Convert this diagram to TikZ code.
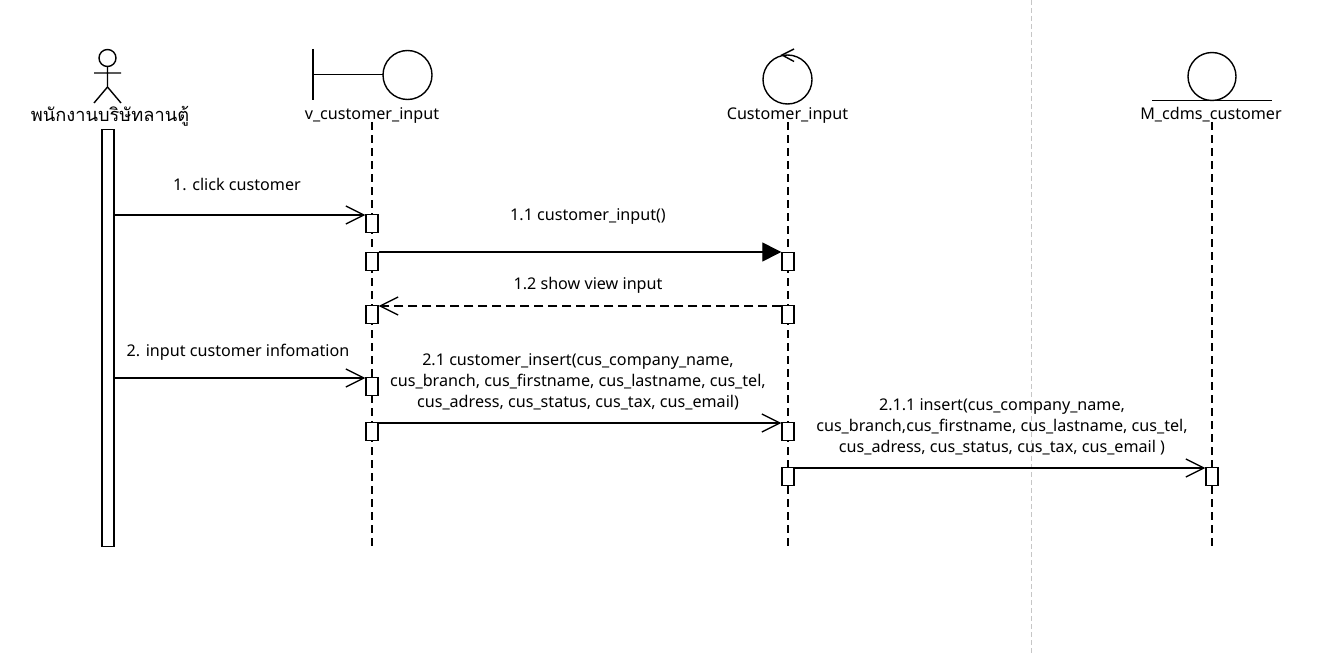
\documentclass[tikz,border=0pt]{standalone}
\usepackage{fontspec}
\setmainfont{Noto Sans}
\newfontfamily\thaifont[Script=Thai]{Loma}
\usetikzlibrary{arrows.meta}

\tikzset{
  txt/.style={inner sep=0pt, align=center, font=\fontsize{16.2}{21}\selectfont},
  lifeline/.style={line width=1.3bp, dash pattern=on 8bp off 5bp},
  actbox/.style={draw, fill=white, line width=1.4bp, minimum width=12bp, minimum height=18bp, inner sep=0pt},
  figure/.style={line width=1.4bp},
  msg/.style={line width=1.3bp, -{Straight Barb[length=18bp,width=18bp,line width=1.3bp]}},
  call/.style={line width=1.3bp, -{Triangle[length=19bp,width=19bp]}},
  reply/.style={msg, dash pattern=on 9bp off 5bp},
}

\begin{document}
\begin{tikzpicture}[x=1bp, y=-1bp]
\useasboundingbox (0,0) rectangle (1331,655);
\fill[white] (0,0) rectangle (1331,655);

% swimlane separator
\draw[gray!45, line width=1bp, dash pattern=on 5bp off 3bp] (1031,0) -- (1031,655);

% actor
\draw[figure] (107.5,58) circle (8.5);
\draw[figure] (107.5,66.5) -- (107.5,87) (94,73) -- (121,73)
              (94,103) -- (107.5,87) -- (121,103);
\node[txt] (actorlbl) at (110,116) {\thaifont\fontsize{18.3}{21}\selectfont พนักงานบริษัทลานตู้};
\node[draw, fill=white, line width=1.4bp, minimum width=12bp, minimum height=417bp, inner sep=0pt, anchor=north] (bar) at (108,129) {};

% boundary
\draw[figure] (313,49) -- (313,100) (313,74.5) -- (383,74.5);
\draw[figure] (407.5,75) circle (24.5);
\node[txt] (vlbl) at (372,115) {v\_customer\_input};

% control
\draw[figure] (787.5,79.5) circle (24.5);
\draw[figure] (794,49) -- (782,55) -- (794,61.5);
\node[txt] (clbl) at (787.5,115) {Customer\_input};

% entity
\draw[figure] (1212,76.5) circle (24);
\draw[figure] (1152,100.5) -- (1272,100.5);
\node[txt] (elbl) at (1211,115) {M\_cdms\_customer};

% lifelines
\coordinate (vtop) at (372,122);  \coordinate (vbot) at (372,546);
\coordinate (ctop) at (788,122);  \coordinate (cbot) at (788,546);
\coordinate (etop) at (1212,122); \coordinate (ebot) at (1212,546);
\draw[lifeline] (vtop) -- (vbot);
\draw[lifeline] (ctop) -- (cbot);
\draw[lifeline] (etop) -- (ebot);

% activations
\node[actbox, anchor=north] (v1) at (372,214) {};
\node[actbox, anchor=north] (v2) at (372,252) {};
\node[actbox, anchor=north] (v3) at (372,305) {};
\node[actbox, anchor=north] (v4) at (372,377) {};
\node[actbox, anchor=north] (v5) at (372,422) {};
\node[actbox, anchor=north] (c1) at (788,252) {};
\node[actbox, anchor=north] (c2) at (788,305) {};
\node[actbox, anchor=north] (c3) at (788,422) {};
\node[actbox, anchor=north] (c4) at (788,467) {};
\node[actbox, anchor=north] (e1) at (1212,467) {};

% messages
\draw[msg]   ([yshift=-1bp]bar.east |- v1.north) -- ([yshift=-1bp]v1.north west);
\draw[call]  (v2.north east) -- (c1.north west);
\draw[reply] ([yshift=-1bp]c2.north west) -- ([yshift=-1bp]v3.north east);
\draw[msg]   ([yshift=-1bp]bar.east |- v4.north) -- ([yshift=-1bp]v4.north west);
\draw[msg]   ([yshift=-1bp]v5.north east) -- ([yshift=-1bp]c3.north west);
\draw[msg]   ([yshift=-1bp]c4.north east) -- ([yshift=-1bp]e1.north west);

% message labels
\node[txt] (m1)   at (237,184) {1. click customer};
\node[txt] (m11)  at (588,216) {1.1 customer\_input()};
\node[txt] (m12)  at (588,285) {1.2 show view input};
\node[txt] (m2)   at (238,352) {2. input customer infomation};
\node[txt] (m21)  at (578,382) {2.1 customer\_insert(cus\_company\_name,\\cus\_branch, cus\_firstname, cus\_lastname, cus\_tel,\\cus\_adress, cus\_status, cus\_tax, cus\_email)};
\node[txt] (m211) at (1002,427) {2.1.1 insert(cus\_company\_name,\\cus\_branch,cus\_firstname, cus\_lastname, cus\_tel,\\cus\_adress, cus\_status, cus\_tax, cus\_email )};
\end{tikzpicture}
\end{document}
